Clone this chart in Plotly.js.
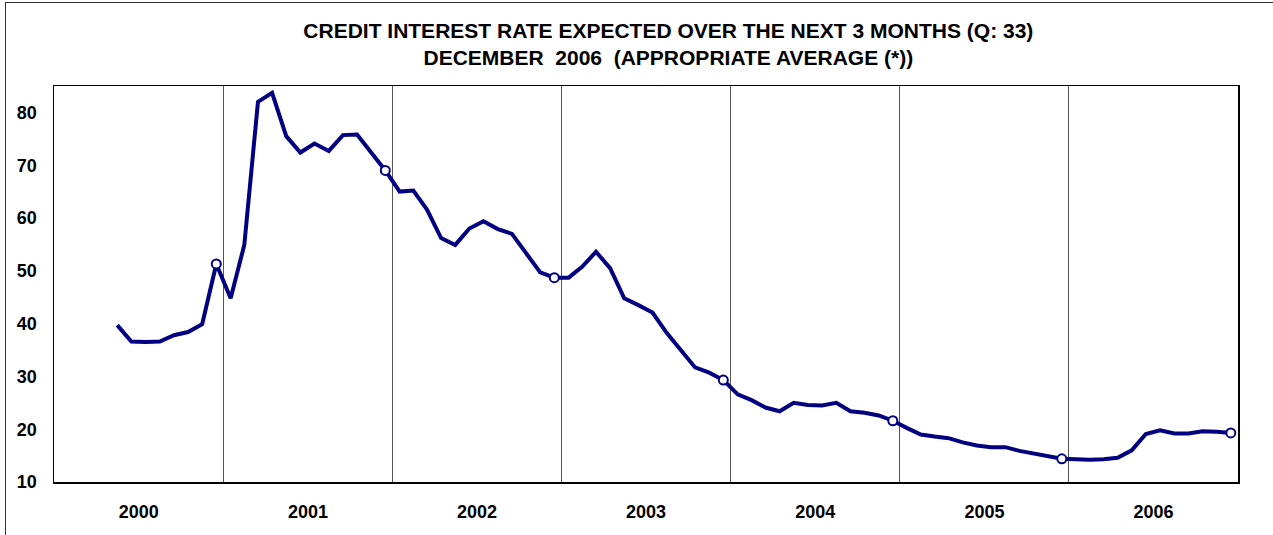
<!DOCTYPE html>
<html>
<head>
<meta charset="utf-8">
<script src="https://cdn.plot.ly/plotly-3.0.1.min.js"></script>
<style>
  html, body { margin: 0; padding: 0; background: #ffffff; overflow: hidden; }
  #frame { position: absolute; left: 5px; top: 2px; width: 1400px; height: 700px; border: 1.5px solid #333333; }
  #chart { position: absolute; left: 0; top: 0; width: 1273px; height: 535px; }
</style>
</head>
<body>
<div id="frame"></div>
<div id="chart"></div>
<script>
// Months of the series (May 2000 - December 2006)
const months = [
  '2000-05','2000-06','2000-07','2000-08','2000-09','2000-10','2000-11','2000-12',
  '2001-01','2001-02','2001-03','2001-04','2001-05','2001-06','2001-07','2001-08','2001-09','2001-10','2001-11','2001-12',
  '2002-01','2002-02','2002-03','2002-04','2002-05','2002-06','2002-07','2002-08','2002-09','2002-10','2002-11','2002-12',
  '2003-01','2003-02','2003-03','2003-04','2003-05','2003-06','2003-07','2003-08','2003-09','2003-10','2003-11','2003-12',
  '2004-01','2004-02','2004-03','2004-04','2004-05','2004-06','2004-07','2004-08','2004-09','2004-10','2004-11','2004-12',
  '2005-01','2005-02','2005-03','2005-04','2005-05','2005-06','2005-07','2005-08','2005-09','2005-10','2005-11','2005-12',
  '2006-01','2006-02','2006-03','2006-04','2006-05','2006-06','2006-07','2006-08','2006-09','2006-10','2006-11','2006-12'
];

// Expected credit interest rate (appropriate average)
const rates = [
  39.7, 36.6, 36.5, 36.6, 37.8, 38.4, 39.9, 51.3,
  44.8, 54.9, 82.0, 83.7, 75.5, 72.4, 74.1, 72.7, 75.7, 75.8, 72.4, 69.0,
  65.0, 65.2, 61.6, 56.2, 54.9, 58.0, 59.4, 57.9, 57.0, 53.3, 49.7, 48.7,
  48.7, 50.8, 53.6, 50.5, 44.8, 43.5, 42.1, 38.2, 35.0, 31.7, 30.7, 29.3,
  26.6, 25.5, 24.1, 23.4, 25.0, 24.6, 24.5, 25.0, 23.4, 23.1, 22.6, 21.6,
  20.2, 19.0, 18.6, 18.3, 17.5, 16.9, 16.6, 16.6, 15.9, 15.4, 14.9, 14.4,
  14.3, 14.2, 14.3, 14.6, 16.0, 19.1, 19.8, 19.2, 19.2, 19.6, 19.5, 19.3
];

const yTicks = [10, 20, 30, 40, 50, 60, 70, 80];
const titleLines = [
  'CREDIT INTEREST RATE EXPECTED OVER THE NEXT 3 MONTHS (Q: 33)',
  'DECEMBER\u00A0\u00A02006\u00A0\u00A0(APPROPRIATE AVERAGE (*))'
];

// December points carry a hollow marker
const decX = months.filter(m => m.endsWith('-12'));
const decY = months.map((m, i) => [m, rates[i]]).filter(p => p[0].endsWith('-12')).map(p => p[1]);

const navy = '#000080';
const tickFont = { family: 'Arial, Liberation Sans, sans-serif', size: 18, color: '#000000', weight: 'bold' };

const traces = [
  {
    x: months, y: rates, type: 'scatter', mode: 'lines',
    xperiod: 'M1', xperiodalignment: 'middle',
    line: { color: navy, width: 4 },
    hoverinfo: 'skip', showlegend: false
  },
  {
    x: decX, y: decY, type: 'scatter', mode: 'markers',
    xperiod: 'M1', xperiodalignment: 'middle',
    marker: { symbol: 'circle', size: 9, color: '#ffffff', line: { color: navy, width: 2 } },
    hoverinfo: 'skip', showlegend: false
  }
];

const layout = {
  width: 1273, height: 535,
  margin: { l: 54, r: 35, t: 86, b: 53 },
  paper_bgcolor: 'rgba(0,0,0,0)',
  plot_bgcolor: '#ffffff',
  title: {
    text: titleLines.join('<br>'),
    font: { family: 'Arial, Liberation Sans, sans-serif', size: 21, color: '#000000', weight: 'bold' },
    x: 0.525, xanchor: 'center', y: 0.929, yanchor: 'top'
  },
  xaxis: {
    type: 'date',
    range: ['2000-01-01', '2007-01-01'],
    tick0: '2000-01-01', dtick: 'M12',
    ticklabelmode: 'period', tickformat: '%Y',
    ticks: '', ticklabelstandoff: 13,
    tickfont: tickFont,
    showgrid: true, gridcolor: '#555555', gridwidth: 1,
    showline: true, linecolor: '#000000', linewidth: 1.5, mirror: true,
    zeroline: false, fixedrange: true
  },
  yaxis: {
    range: [10, 85],
    tickvals: yTicks, ticktext: yTicks.map(String),
    ticks: '', ticklabelstandoff: 12,
    tickfont: tickFont,
    showgrid: false,
    showline: true, linecolor: '#000000', linewidth: 1.5, mirror: true,
    zeroline: false, fixedrange: true
  },
  hovermode: false
};

Plotly.newPlot('chart', traces, layout, { displayModeBar: false, staticPlot: true });
</script>
</body>
</html>
